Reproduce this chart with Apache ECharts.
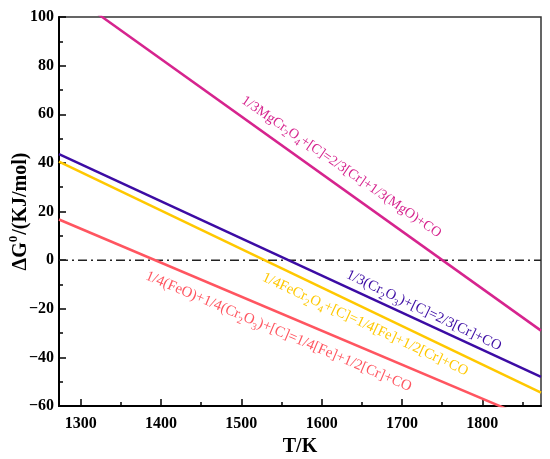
<!DOCTYPE html>
<html style="height: 100%">
<head>
    <meta charset="utf-8">
    <title>Delta G vs T</title>
</head>
<body style="height: 100%; margin: 0">
    <div id="container" style="width: 550px; height: 459px"></div>
    <script type="text/javascript" src="https://cdn.jsdelivr.net/npm/echarts@6/dist/echarts.min.js"></script>
    <script type="text/javascript">
        // temperature range (K) and the two end values of each straight line
        var temps    = [1273, 1873];
        var mgCr2O4  = [112.7, -29.0];
        var cr2O3    = [43.6, -48.0];
        var feCr2O4  = [40.5, -54.5];
        var feO      = [16.7, -67.2];
        var zeroLine = [0, 0];
        var xTicks   = [1300, 1400, 1500, 1600, 1700, 1800];
        var xMinor   = [1350, 1450, 1550, 1650, 1750, 1850];

        var serif = '"Liberation Serif", "Times New Roman", serif';
        var dom     = document.getElementById("container");
        var myChart = echarts.init(dom);

        function pairs(vals) {
            return temps.map(function (t, i) { return [t, vals[i]]; });
        }

        function labelRich(color, size) {
            return {
                t: {fontFamily: serif, fontSize: size, color: color, lineHeight: 18, verticalAlign: 'bottom'},
                s: {fontFamily: serif, fontSize: 10, color: color, lineHeight: 18, verticalAlign: 'bottom', padding: [0, 0, -3, 0]}
            };
        }

        function lineSeries(name, vals, color, text, at, rot, size) {
            return {
                name: name,
                type: 'line',
                data: pairs(vals),
                symbol: 'none',
                lineStyle: {color: color, width: 2.5},
                itemStyle: {color: color},
                z: 3,
                markPoint: {
                    symbol: 'circle',
                    symbolSize: 0,
                    silent: true,
                    data: [{coord: at}],
                    label: {
                        show: true,
                        position: 'inside',
                        rotate: rot,
                        formatter: text,
                        rich: labelRich(color, size)
                    }
                }
            };
        }

        var series = [
            {
                name: 'zero',
                type: 'line',
                data: pairs(zeroLine),
                symbol: 'none',
                z: 2,
                lineStyle: {color: '#222', width: 1.5, type: [9, 4, 2, 4]}
            },
            lineSeries('MgCr2O4', mgCr2O4, '#d6248e',
                '{t|1/3MgCr}{s|2}{t|O}{s|4}{t|+[C]=2/3[Cr]+1/3(MgO)+CO}', [1626, 39], -34.5, 14),
            lineSeries('Cr2O3', cr2O3, '#3c0ca4',
                '{t|1/3(Cr}{s|2}{t|O}{s|3}{t|)+[C]=2/3[Cr]+CO}', [1728, -20.2], -25.5, 14.5),
            lineSeries('FeCr2O4', feCr2O4, '#ffc800',
                '{t|1/4FeCr}{s|2}{t|O}{s|4}{t|+[C]=1/4[Fe]+1/2[Cr]+CO}', [1655, -25.9], -25, 14.5),
            lineSeries('FeO', feO, '#ff5560',
                '{t|1/4(FeO)+1/4(Cr}{s|2}{t|O}{s|3}{t|)+[C]=1/4[Fe]+1/2[Cr]+CO}', [1547, -28.8], -23, 14.8)
        ];

        var option = {
            animation: false,
            backgroundColor: '#fff',
            grid: {
                left: 59, right: 9, top: 17, bottom: 53,
                containLabel: false,
                outerBoundsMode: 'none',
                show: true,
                borderColor: '#333',
                borderWidth: 1.5
            },
            xAxis: [{
                type: 'value',
                min: temps[0],
                max: temps[1],
                name: 'T/K',
                nameLocation: 'middle',
                nameGap: 31,
                nameMoveOverlap: false,
                nameTextStyle: {fontFamily: serif, fontSize: 20, fontWeight: 'bold', color: '#000'},
                axisLine: {show: true, onZero: false, lineStyle: {color: '#000', width: 2}},
                axisTick: {show: true, inside: true, length: 7, customValues: xTicks,
                           lineStyle: {color: '#000', width: 1.5}},
                axisLabel: {customValues: xTicks, margin: 10, fontFamily: serif,
                            fontSize: 16, fontWeight: 'bold', color: '#000',
                            formatter: function (v) { return String(v); }},
                splitLine: {show: false}
            }, {
                type: 'value',
                min: temps[0],
                max: temps[1],
                position: 'bottom',
                axisLine: {show: false, onZero: false},
                axisTick: {show: true, inside: true, length: 4, customValues: xMinor,
                           lineStyle: {color: '#000', width: 1.5}},
                axisLabel: {show: false},
                splitLine: {show: false}
            }],
            yAxis: {
                type: 'value',
                min: -60,
                max: 100,
                interval: 20,
                name: '{a|ΔG}{b|0}{a|/(KJ/mol)}',
                nameLocation: 'middle',
                nameGap: 28,
                nameMoveOverlap: false,
                nameTextStyle: {
                    rich: {
                        a: {fontFamily: serif, fontSize: 20, fontWeight: 'bold', color: '#000', lineHeight: 24, verticalAlign: 'bottom'},
                        b: {fontFamily: serif, fontSize: 13, fontWeight: 'bold', color: '#000', lineHeight: 24, verticalAlign: 'top', padding: [0, 1, 0, 0]}
                    }
                },
                axisLine: {show: true, onZero: false, lineStyle: {color: '#000', width: 2}},
                axisTick: {show: true, inside: true, length: 7, lineStyle: {color: '#000', width: 1.5}},
                minorTick: {show: true, splitNumber: 2, length: 4, lineStyle: {color: '#000', width: 1.5}},
                axisLabel: {margin: 5, fontFamily: serif, fontSize: 16, fontWeight: 'bold', color: '#000',
                            formatter: function (v) { return String(v).replace('-', '\u2212'); }},
                splitLine: {show: false}
            },
            series: series
        };

        myChart.setOption(option, true);
    </script>
</body>
</html>
